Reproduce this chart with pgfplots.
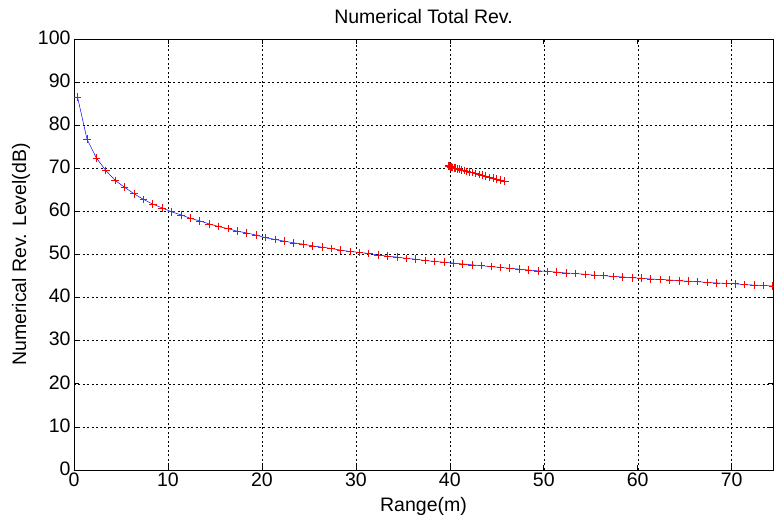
\documentclass[border=0pt]{standalone}
\usepackage{pgfplots}
\pgfplotsset{compat=1.18}
\usepackage{fontspec}
\setmainfont{Liberation Sans}
\begin{document}
\begin{tikzpicture}[x=1pt,y=1pt]
\path[use as bounding box] (-74,-48) rectangle (700,470);
\begin{axis}[
  at={(0,0)}, anchor=south west,
  scale only axis, width=699pt, height=431pt,
  xmin=0, xmax=74.4, ymin=0, ymax=100,
  xtick={0,10,...,70}, ytick={0,10,...,100},
  grid=major,
  major grid style={black, line width=0.4pt, dash pattern=on 2pt off 2.5pt},
  axis line style={black, line width=0.6pt},
  tick style={black, line width=0.6pt},
  tick align=inside, major tick length=5pt,
  xticklabel={\fontsize{19.5}{22}\selectfont\pgfmathprintnumber[assume math mode=true]{\tick}},
  yticklabel={\fontsize{19.5}{22}\selectfont\pgfmathprintnumber[assume math mode=true]{\tick}},
  xticklabel style={yshift=-1pt, inner sep=2pt, outer sep=0pt},
  yticklabel style={xshift=-1.5pt, yshift=1.5pt, inner sep=2pt, outer sep=0pt},
  title={Numerical Total Rev.},
  every axis title/.style={at={(axis description cs:0.5,1.051)}, anchor=center, font=\fontsize{19.5}{22}\selectfont},
  xlabel={Range(m)},
  ylabel={Numerical Rev. Level(dB)},
  every axis x label/.style={at={(axis description cs:0.5,-0.0835)}, anchor=center, font=\fontsize{19.5}{22}\selectfont},
  every axis y label/.style={at={(axis description cs:-0.0758,0.5)}, rotate=90, anchor=center, font=\fontsize{19.5}{22}\selectfont},
]
\pgfplotstableread{
x y
0.38 86.5
1.38 76.8
2.38 72.4
3.38 69.5
4.38 67.2
5.38 65.6
6.38 64.1
7.38 62.8
8.38 61.7
9.38 60.8
10.38 59.9
11.38 59.2
12.38 58.4
13.38 57.8
14.38 57.1
15.38 56.5
16.38 56.0
17.38 55.4
18.38 55.0
19.38 54.5
20.38 53.9
21.38 53.5
22.38 53.1
23.38 52.7
24.38 52.4
25.38 52.0
26.38 51.7
27.38 51.4
28.38 51.0
29.38 50.7
30.38 50.5
31.38 50.2
32.38 49.9
33.38 49.6
34.38 49.4
35.38 49.1
36.38 48.9
37.38 48.6
38.38 48.4
39.38 48.2
40.38 48.0
41.38 47.8
42.38 47.6
43.38 47.4
44.38 47.2
45.38 47.0
46.38 46.8
47.38 46.6
48.38 46.4
49.38 46.2
50.38 46.1
51.38 45.9
52.38 45.7
53.38 45.6
54.38 45.4
55.38 45.2
56.38 45.1
57.38 44.9
58.38 44.8
59.38 44.6
60.38 44.5
61.38 44.3
62.38 44.2
63.38 44.1
64.38 43.9
65.38 43.8
66.38 43.7
67.38 43.5
68.38 43.4
69.38 43.3
70.38 43.2
71.38 43.0
72.38 42.9
73.38 42.8
74.38 42.7
}\main
\pgfplotstableread{
x y
39.85 70.6
39.90 70.5
39.95 70.5
40.00 70.4
40.05 70.4
40.10 70.3
40.20 70.3
40.30 70.2
40.45 70.1
40.60 70.0
40.80 69.9
41.00 69.8
41.25 69.6
41.50 69.5
41.80 69.3
42.10 69.1
42.40 69.0
42.75 68.8
43.10 68.6
43.45 68.4
43.80 68.2
44.20 67.9
44.60 67.7
45.00 67.5
45.40 67.3
45.85 67.0
}\cluster
\addplot[blue, line width=0.5pt, mark=none] table {\main};
\addplot[red, only marks, mark=+, mark size=3.8pt, mark options={line width=0.65pt}] table {\main};
\addplot[blue, line width=0.5pt, mark=none] table {\cluster};
\addplot[red, only marks, mark=+, mark size=3.8pt, mark options={line width=0.65pt}] table {\cluster};
\end{axis}
\end{tikzpicture}
\end{document}
